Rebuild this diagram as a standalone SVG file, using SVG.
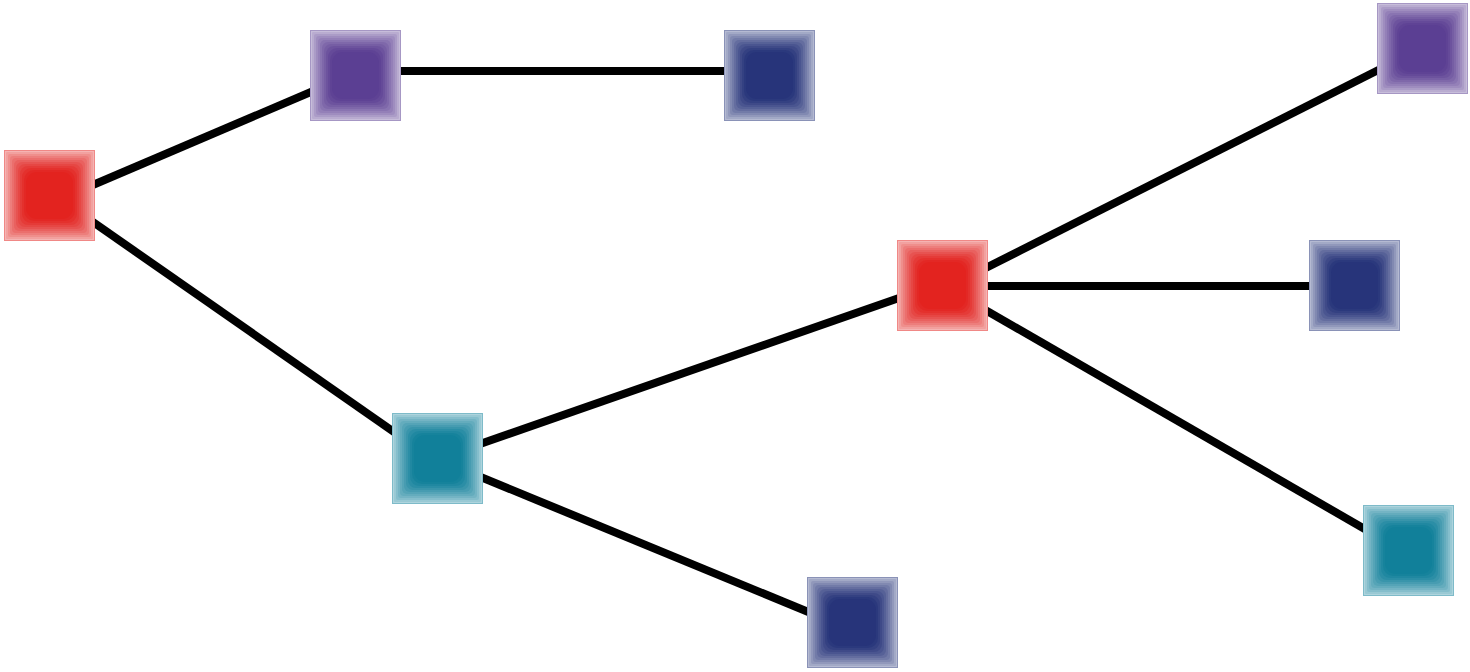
<svg xmlns="http://www.w3.org/2000/svg" xmlns:xlink="http://www.w3.org/1999/xlink" width="1470" height="672" viewBox="0 0 1470 672">
<defs>
<style>
.edge line{stroke:#000;stroke-width:8;stroke-linecap:butt}
.red{color:#e3231f}
.purple{color:#5b3f93}
.navy{color:#27347a}
.teal{color:#11809a}
#tile rect.l{fill:currentColor}
</style>
<g id="tile">
<rect x="0" y="0" width="91" height="91" fill="#ffffff"/>
<rect class="l" x="0" y="0" width="91" height="91" fill-opacity="0.34"/>
<rect class="l" x="2" y="2" width="87" height="87" rx="1" fill-opacity="0.13"/>
<rect class="l" x="4" y="4" width="83" height="83" rx="2" fill-opacity="0.14"/>
<rect class="l" x="6" y="6" width="79" height="79" rx="3" fill-opacity="0.15"/>
<rect class="l" x="8" y="8" width="75" height="75" rx="4" fill-opacity="0.16"/>
<rect class="l" x="10" y="10" width="71" height="71" rx="5" fill-opacity="0.18"/>
<rect class="l" x="12" y="12" width="67" height="67" rx="6" fill-opacity="0.21"/>
<rect class="l" x="14" y="14" width="63" height="63" rx="7" fill-opacity="0.25"/>
<rect class="l" x="16" y="16" width="59" height="59" rx="8" fill-opacity="0.32"/>
<rect class="l" x="18" y="18" width="55" height="55" rx="9" fill-opacity="0.42"/>
<rect class="l" x="20" y="20" width="51" height="51" rx="10" fill-opacity="0.6"/>
<rect class="l" x="22" y="22" width="47" height="47" rx="11" fill-opacity="1"/>
<rect x="0.5" y="0.5" width="90" height="90" fill="none" stroke="currentColor" stroke-opacity="0.3"/>
</g>
</defs>
<rect width="1470" height="672" fill="#ffffff"/>
<g id="connectors" class="edge">
<line x1="60" y1="199" x2="346" y2="77"/>
<line x1="360" y1="71" x2="765" y2="71"/>
<line x1="60" y1="199" x2="437" y2="462"/>
<line x1="437" y1="459" x2="942" y2="283"/>
<line x1="437" y1="459" x2="852" y2="630"/>
<line x1="942" y1="290" x2="1422" y2="48"/>
<line x1="942" y1="286" x2="1354" y2="286"/>
<line x1="942" y1="285" x2="1408" y2="554"/>
</g>
<g id="n-red1" class="red"><use xlink:href="#tile" href="#tile" x="4" y="150"/></g>
<g id="n-purple1" class="purple"><use xlink:href="#tile" href="#tile" x="310" y="30"/></g>
<g id="n-navy1" class="navy"><use xlink:href="#tile" href="#tile" x="724" y="30"/></g>
<g id="n-teal1" class="teal"><use xlink:href="#tile" href="#tile" x="392" y="413"/></g>
<g id="n-red2" class="red"><use xlink:href="#tile" href="#tile" x="897" y="240"/></g>
<g id="n-purple2" class="purple"><use xlink:href="#tile" href="#tile" x="1377" y="3"/></g>
<g id="n-navy2" class="navy"><use xlink:href="#tile" href="#tile" x="1309" y="240"/></g>
<g id="n-teal2" class="teal"><use xlink:href="#tile" href="#tile" x="1363" y="505"/></g>
<g id="n-navy3" class="navy"><use xlink:href="#tile" href="#tile" x="807" y="577"/></g>
</svg>
